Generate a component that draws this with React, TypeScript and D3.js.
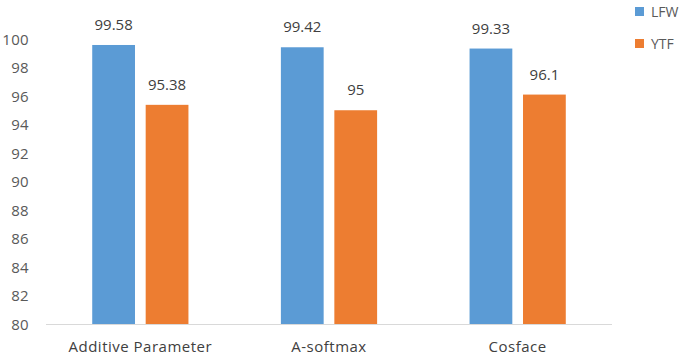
import { useEffect, useRef } from "react";
import * as d3 from "d3";

const categories = ["Additive Parameter", "A-softmax", "Cosface"];
const seriesNames = ["LFW", "YTF"];
const lfw = [99.58, 99.42, 99.33];
const ytf = [95.38, 95, 96.1];
const yTicks = [80, 82, 84, 86, 88, 90, 92, 94, 96, 98, 100];

const WIDTH = 685;
const HEIGHT = 355;
const COLORS = ["#5B9BD5", "#ED7D31"];
const FONT = "'Open Sans', 'Noto Sans', sans-serif";

export default function App() {
  const svgRef = useRef<SVGSVGElement>(null);

  useEffect(() => {
    if (!svgRef.current) return;
    const svg = d3.select(svgRef.current);
    svg.selectAll("*").remove();

    const x0 = d3.scaleBand().domain(categories).range([46, 612]).paddingInner(0.49).paddingOuter(0.245);
    const x1 = d3.scaleBand().domain(seriesNames).range([0, x0.bandwidth()]).paddingInner(0.2);
    const y = d3.scaleLinear().domain([80, 100]).range([324, 39]);

    // axis line
    svg
      .append("line")
      .attr("x1", 46)
      .attr("x2", 612)
      .attr("y1", y(80) + 0.5)
      .attr("y2", y(80) + 0.5)
      .attr("stroke", "#d9d9d9")
      .attr("stroke-width", 1);

    // y tick labels
    svg
      .selectAll("text.ytick")
      .data(yTicks)
      .join("text")
      .attr("class", "ytick")
      .attr("x", 29)
      .attr("y", (d) => y(d) + 5.5)
      .attr("text-anchor", "end")
      .attr("font-family", FONT)
      .attr("font-size", 15)
      .attr("letter-spacing", 0.3)
      .attr("fill", "#595959")
      .text((d) => d);

    const data = categories.map((c, i) => ({ c, vals: [lfw[i], ytf[i]] }));

    const groups = svg
      .selectAll("g.grp")
      .data(data)
      .join("g")
      .attr("class", "grp")
      .attr("transform", (d) => `translate(${x0(d.c)},0)`);

    groups
      .selectAll("rect")
      .data((d) => d.vals.map((v, j) => ({ v, s: seriesNames[j], j })))
      .join("rect")
      .attr("x", (d) => x1(d.s) ?? 0)
      .attr("width", x1.bandwidth())
      .attr("y", (d) => y(d.v))
      .attr("height", (d) => y(80) - y(d.v))
      .attr("fill", (d) => COLORS[d.j]);

    groups
      .selectAll("text.val")
      .data((d) => d.vals.map((v, j) => ({ v, s: seriesNames[j] })))
      .join("text")
      .attr("class", "val")
      .attr("x", (d) => (x1(d.s) ?? 0) + x1.bandwidth() / 2)
      .attr("y", (d) => y(d.v) - 15)
      .attr("text-anchor", "middle")
      .attr("font-family", FONT)
      .attr("font-size", 15)
      .attr("fill", "#404040")
      .text((d) => d.v);

    // category labels
    svg
      .selectAll("text.cat")
      .data(categories)
      .join("text")
      .attr("class", "cat")
      .attr("x", (d) => (x0(d) ?? 0) + x0.bandwidth() / 2)
      .attr("y", 352)
      .attr("text-anchor", "middle")
      .attr("font-family", FONT)
      .attr("font-size", 15)
      .attr("letter-spacing", 0.5)
      .attr("fill", "#404040")
      .text((d) => d);

    // legend
    const legend = svg
      .selectAll("g.leg")
      .data(seriesNames)
      .join("g")
      .attr("class", "leg")
      .attr("transform", (_, i) => `translate(635,${7 + i * 32})`);
    legend
      .append("rect")
      .attr("width", 9)
      .attr("height", 9)
      .attr("fill", (_, i) => COLORS[i]);
    legend
      .append("text")
      .attr("x", 16)
      .attr("y", 9.5)
      .attr("font-family", FONT)
      .attr("font-size", 14)
      .attr("fill", "#595959")
      .text((d) => d);
  }, []);

  return (
    <svg
      ref={svgRef}
      width={WIDTH}
      height={HEIGHT}
      style={{ position: "absolute", left: 0, top: 0, background: "#fff" }}
    />
  );
}
